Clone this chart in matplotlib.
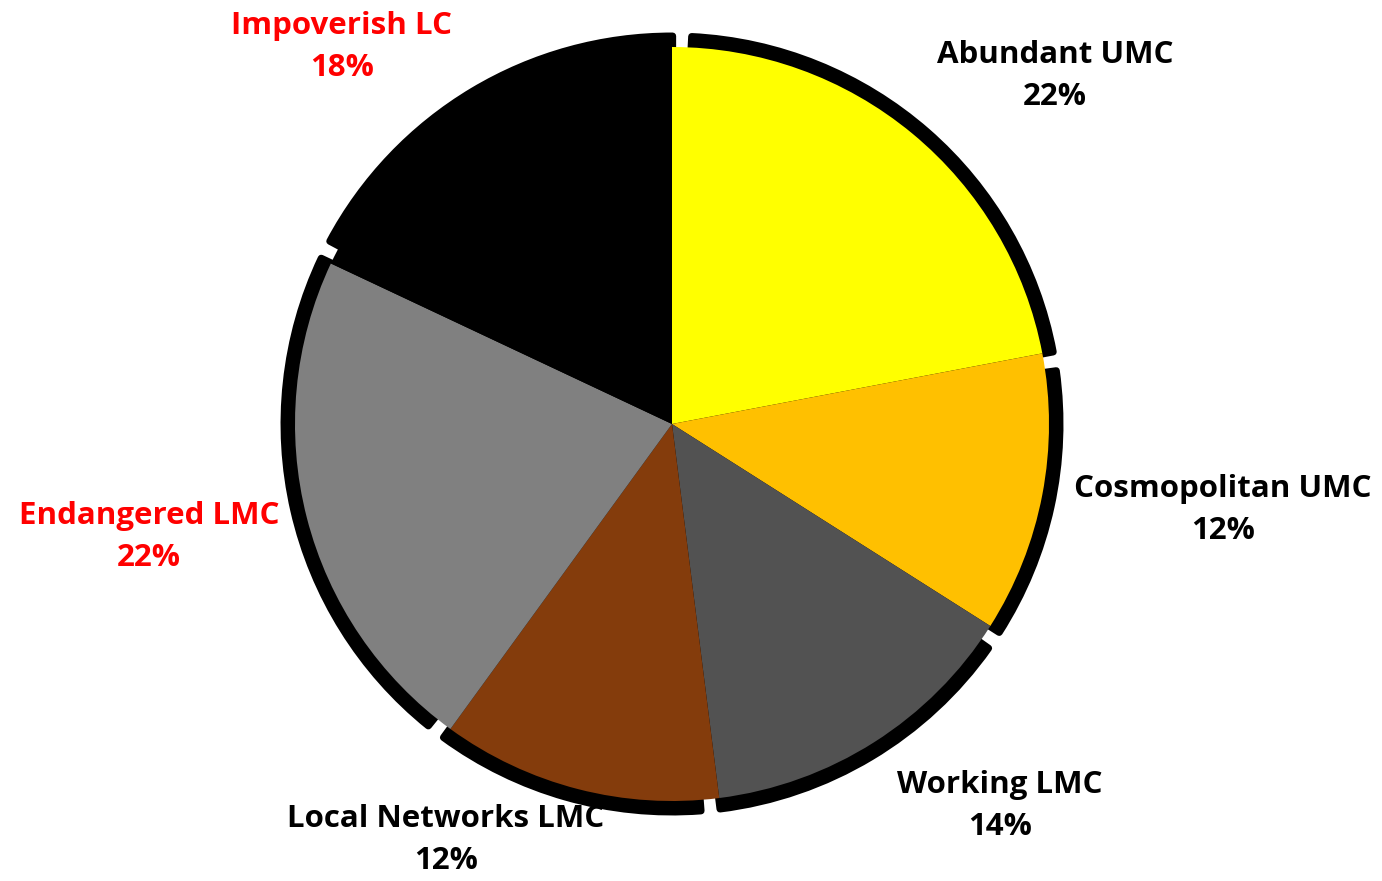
import matplotlib.pyplot as plt
from matplotlib.patches import Wedge
import numpy as np

categories = ['Abundant UMC', 'Cosmopolitan UMC', 'Working LMC',
              'Local Networks LMC', 'Endangered LMC', 'Impoverish LC']
shares = [22, 12, 14, 12, 22, 18]
colors = ['#FFFF00', '#FFC000', '#525252', '#843C0C', '#808080', '#000000']
label_colors = ['black', 'black', 'black', 'black', 'red', 'red']

# label centres in pixels (x, y from top)
label_pos = [(1055, 76), (1223, 510), (1000, 806), (446, 840), (149, 537), (342, 47)]

W, H = 1382, 881
cx, cy, r = 672, H - 424, 377

plt.rcParams['font.family'] = ['Open Sans', 'DejaVu Sans']
fig = plt.figure(figsize=(W / 100, H / 100), dpi=100)
ax = fig.add_axes([0, 0, 1, 1])

# black shadow ring, one piece per slice with small gaps
fracs = np.array(shares) / sum(shares)
edges = 90 - 360 * np.concatenate([[0], np.cumsum(fracs)])
shift = -1.5
for a0, a1 in zip(edges[:-1], edges[1:]):
    sh = Wedge((cx, cy), r + 11, a1 + shift + 1.4, a0 + shift - 1.4,
               facecolor='black', edgecolor='black', linewidth=5,
               joinstyle='round', zorder=1)
    ax.add_patch(sh)

ax.pie(shares, colors=colors, startangle=90, counterclock=False,
       center=(cx, cy), radius=r, wedgeprops=dict(linewidth=0, zorder=2))

for name, val, col, (px, py) in zip(categories, shares, label_colors, label_pos):
    ax.text(px, H - py, f'{name}\n{val}%', ha='center', va='center',
            fontsize=22.5, fontweight='bold', color=col, linespacing=1.55,
            zorder=3)

ax.set_xlim(0, W)
ax.set_ylim(0, H)
ax.set_aspect('equal')
ax.axis('off')
fig.savefig('out.png', dpi=100)
